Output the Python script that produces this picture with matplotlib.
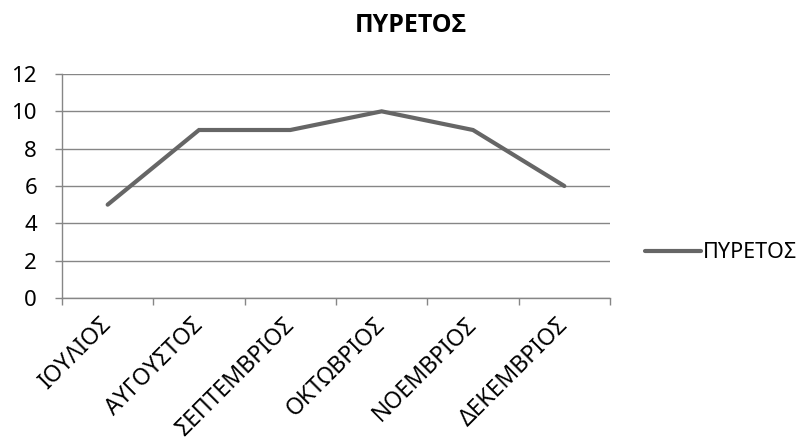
import matplotlib
matplotlib.use("Agg")
import matplotlib.pyplot as plt
import numpy as np

plt.rcParams['font.family'] = ['Noto Sans', 'DejaVu Sans']

months = ["ΙΟΥΛΙΟΣ", "ΑΥΓΟΥΣΤΟΣ", "ΣΕΠΤΕΜΒΡΙΟΣ", "ΟΚΤΩΒΡΙΟΣ", "ΝΟΕΜΒΡΙΟΣ", "ΔΕΚΕΜΒΡΙΟΣ"]
fever = [5, 9, 9, 10, 9, 6]
series_name = "ΠΥΡΕΤΟΣ"
title = "ΠΥΡΕΤΟΣ"
y_ticks = [0, 2, 4, 6, 8, 10, 12]

fig = plt.figure(figsize=(8.04, 4.44), dpi=100)
ax = fig.add_axes([62 / 804, 1 - 298 / 444, 548 / 804, 224 / 444])

grid_c = "#868686"
line_c = "#666666"

x = np.arange(len(months))
ax.plot(x, fever, color=line_c, linewidth=3.0, solid_capstyle="round",
        solid_joinstyle="miter", label=series_name, zorder=3)

ax.set_xlim(-0.5, len(months) - 0.5)
ax.set_ylim(0, 12)
ax.set_yticks(y_ticks)
ax.set_yticklabels([str(v) for v in y_ticks], fontsize=16)
ax.yaxis.grid(True, color=grid_c, linewidth=1.0)
ax.set_axisbelow(True)

# boundary ticks between categories, labels centred on categories
ax.set_xticks(np.arange(len(months) + 1) - 0.5)
ax.set_xticklabels([])
ax.set_xticks(x, minor=True)
ax.set_xticklabels(months, minor=True, rotation=45, ha="right", va="center",
                   rotation_mode="anchor", fontsize=16.5)
ax.tick_params(axis="x", which="minor", length=0, pad=17)
ax.tick_params(axis="x", which="major", length=5, color=grid_c, width=1)
ax.tick_params(axis="y", length=5, color=grid_c, width=1, pad=13)

for s in ["top", "right"]:
    ax.spines[s].set_visible(False)
for s in ["left", "bottom"]:
    ax.spines[s].set_color(grid_c)
    ax.spines[s].set_linewidth(1.0)

fig.text(411 / 804, 1 - 26 / 444, title, ha="center", va="center",
         fontsize=18, fontweight="bold", family=["Open Sans", "DejaVu Sans"])

leg = fig.legend(loc="center left", bbox_to_anchor=(636 / 804, 1 - 253 / 444),
                 frameon=False, fontsize=15.5, handlelength=2.6, handletextpad=0.1,
                 borderaxespad=0)

fig.savefig("out.png", dpi=100)
